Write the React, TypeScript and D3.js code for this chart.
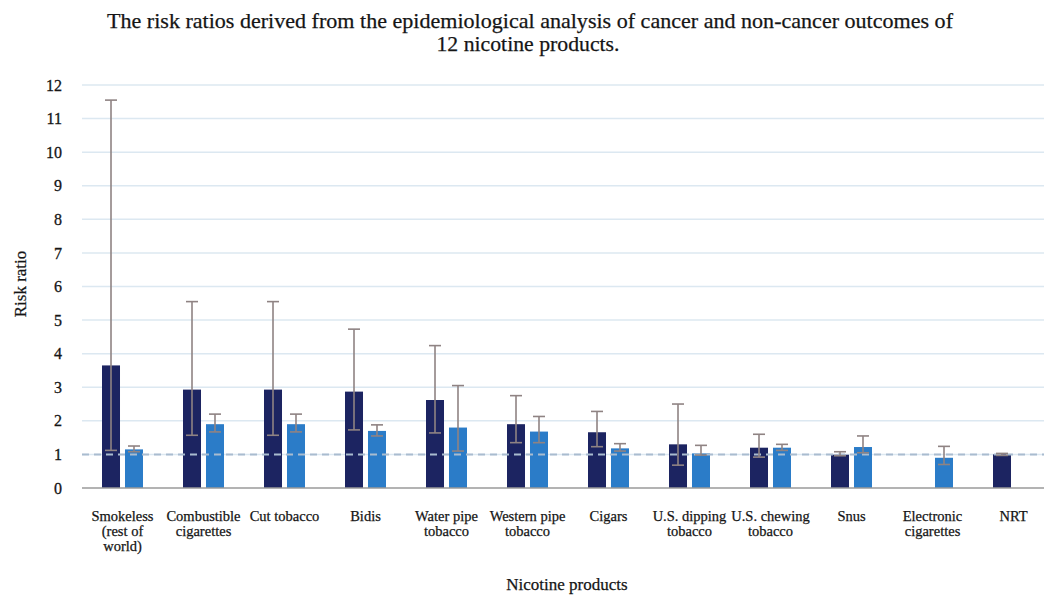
import React from "react";
import * as d3 from "d3";

// Nicotine product categories ("\n" marks a line break in the axis label)
const categories: string[] = [
  "Smokeless\n(rest of\nworld)",
  "Combustible\ncigarettes",
  "Cut tobacco",
  "Bidis",
  "Water pipe\ntobacco",
  "Western pipe\ntobacco",
  "Cigars",
  "U.S. dipping\ntobacco",
  "U.S. chewing\ntobacco",
  "Snus",
  "Electronic\ncigarettes",
  "NRT",
];

const seriesKeys: string[] = ["cancer", "nonCancer"];

// Cancer outcomes: risk ratio with lower / upper interval
const cancerRR: (number | null)[] = [3.65, 2.93, 2.93, 2.87, 2.62, 1.9, 1.66, 1.3, 1.2, 0.99, null, 1.0];
const cancerLower: (number | null)[] = [1.12, 1.57, 1.57, 1.73, 1.64, 1.35, 1.23, 0.68, 0.92, 0.96, null, 0.97];
const cancerUpper: (number | null)[] = [11.55, 5.55, 5.55, 4.73, 4.24, 2.75, 2.28, 2.5, 1.6, 1.08, null, 1.03];

// Non-cancer outcomes
const nonCancerRR: (number | null)[] = [1.15, 1.9, 1.9, 1.7, 1.8, 1.68, 1.18, 1.03, 1.2, 1.22, 0.9, null];
const nonCancerLower: (number | null)[] = [1.08, 1.67, 1.67, 1.55, 1.1, 1.35, 1.1, 0.98, 1.12, 1.05, 0.7, null];
const nonCancerUpper: (number | null)[] = [1.25, 2.2, 2.2, 1.88, 3.05, 2.13, 1.32, 1.27, 1.3, 1.55, 1.24, null];

const yTicks: number[] = [0, 1, 2, 3, 4, 5, 6, 7, 8, 9, 10, 11, 12];
const referenceRR = 1;

const titleLines: string[] = [
  "The risk ratios derived from the epidemiological analysis of cancer and non-cancer outcomes of",
  "12 nicotine products.",
];

const W = 1044;
const H = 598;
const plot = { left: 82, right: 1054, top: 85, bottom: 488 };
const colors: Record<string, string> = { cancer: "#1c2461", nonCancer: "#2b7cc8" };
const errColor = "#8f8383";
const serif = "'Liberation Serif', 'Times New Roman', serif";
const ink = "#151515";

export default function App() {
  const x0 = d3.scaleBand<string>().domain(categories).range([plot.left, plot.right]).paddingInner(0).paddingOuter(0);
  const x1 = d3
    .scaleBand<string>()
    .domain(seriesKeys)
    .range([0, x0.bandwidth()])
    .paddingInner(0.217)
    .paddingOuter(0.87);
  const y = d3.scaleLinear().domain([0, 12]).range([plot.bottom, plot.top]);

  const series = [
    { key: "cancer", rr: cancerRR, lo: cancerLower, hi: cancerUpper },
    { key: "nonCancer", rr: nonCancerRR, lo: nonCancerLower, hi: nonCancerUpper },
  ];

  const bw = x1.bandwidth();

  return (
    <svg width={W} height={H} style={{ display: "block", position: "absolute", left: 0, top: 0, background: "#fff" }}>
      <rect x={0} y={0} width={W} height={H} fill="#fff" />
      {/* title */}
      <g fontFamily={serif} fill={ink} stroke={ink} strokeWidth={0.25} textAnchor="middle">
        <text x={530} y={28} fontSize={22} textLength={846} lengthAdjust="spacingAndGlyphs">
          {titleLines[0]}
        </text>
        <text x={528} y={51} fontSize={22} textLength={183} lengthAdjust="spacingAndGlyphs">
          {titleLines[1]}
        </text>
      </g>

      {/* gridlines */}
      {yTicks
        .filter((t) => t > 0)
        .map((t) => (
          <line key={t} x1={plot.left} x2={plot.right} y1={y(t)} y2={y(t)} stroke="#dce8f1" strokeWidth={1.5} />
        ))}

      {/* y tick labels */}
      <g fontFamily={serif} fontSize={16} fill={ink} stroke={ink} strokeWidth={0.3} textAnchor="end">
        {yTicks.map((t) => (
          <text key={t} x={62} y={y(t)} dy="0.35em">
            {t}
          </text>
        ))}
      </g>

      {/* bars */}
      {series.map((s) =>
        categories.map((c, i) => {
          const v = s.rr[i];
          if (v == null) return null;
          const bx = (x0(c) as number) + (x1(s.key) as number);
          return <rect key={s.key + i} x={bx} y={y(v)} width={bw} height={y(0) - y(v)} fill={colors[s.key]} />;
        })
      )}

      {/* baseline */}
      <line x1={plot.left} x2={plot.right} y1={y(0)} y2={y(0)} stroke="#9a9a9a" strokeWidth={1.5} />

      {/* reference line at RR = 1 */}
      <line
        x1={plot.left}
        x2={plot.right}
        y1={y(referenceRR)}
        y2={y(referenceRR)}
        stroke="#a9bccf"
        strokeWidth={2}
        strokeDasharray="7,5"
      />

      {/* error bars */}
      {series.map((s) =>
        categories.map((c, i) => {
          const lo = s.lo[i];
          const hi = s.hi[i];
          if (lo == null || hi == null) return null;
          const cx = (x0(c) as number) + (x1(s.key) as number) + bw / 2;
          const cap = 6;
          return (
            <g key={"e" + s.key + i} stroke={errColor} strokeWidth={1.6}>
              <line x1={cx} x2={cx} y1={y(lo)} y2={y(hi)} />
              <line x1={cx - cap} x2={cx + cap} y1={y(hi)} y2={y(hi)} />
              <line x1={cx - cap} x2={cx + cap} y1={y(lo)} y2={y(lo)} />
            </g>
          );
        })
      )}

      {/* category labels */}
      <g fontFamily={serif} fontSize={14.5} fill={ink} stroke={ink} strokeWidth={0.25} textAnchor="middle">
        {categories.map((c) => {
          const cx = (x0(c) as number) + x0.bandwidth() / 2;
          return (
            <text key={c} x={cx} y={521}>
              {c.split("\n").map((ln, k) => (
                <tspan key={k} x={cx} dy={k === 0 ? 0 : 15}>
                  {ln}
                </tspan>
              ))}
            </text>
          );
        })}
      </g>

      {/* axis titles */}
      <text x={567} y={590} fontFamily={serif} fontSize={17} fill={ink} stroke={ink} strokeWidth={0.25} textAnchor="middle">
        Nicotine products
      </text>
      <text
        transform={`translate(26,284) rotate(-90)`}
        fontFamily={serif}
        fontSize={17}
        fill={ink}
        stroke={ink}
        strokeWidth={0.25}
        textAnchor="middle"
      >
        Risk ratio
      </text>
    </svg>
  );
}
